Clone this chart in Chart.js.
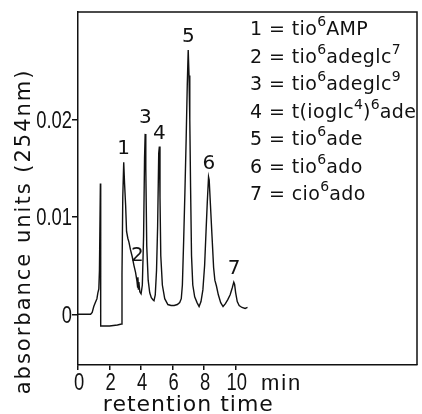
<!DOCTYPE html>
<html>
<head>
<meta charset="utf-8">
<script src="https://cdn.jsdelivr.net/npm/chart.js@4/dist/chart.umd.min.js"></script>
<style>
html,body{margin:0;padding:0;background:#fff;}
canvas{display:block;}
</style>
</head>
<body>
<canvas id="c" width="422" height="414"></canvas>
<script>
// retention time (min)
const retentionTime = [
  0, 0.8, 0.9, 1.0, 1.1, 1.2, 1.26, 1.32, 1.36, 1.42, 1.43, 1.45, 2.0, 2.5, 2.76,
  2.79, 2.84, 2.9, 2.95, 3.02, 3.08, 3.16, 3.23, 3.33, 3.44, 3.55, 3.65, 3.74, 3.78, 3.8, 3.83, 3.86, 3.92, 4.0,
  4.08, 4.16, 4.22, 4.26, 4.3, 4.36, 4.45, 4.55, 4.65, 4.75, 4.82, 4.9, 4.98, 5.05, 5.12, 5.16, 5.2, 5.25, 5.35,
  5.5, 5.7, 5.9, 6.1, 6.3, 6.45, 6.55, 6.62, 6.7, 6.78, 6.86, 6.93, 6.99, 7.04, 7.09, 7.14, 7.2, 7.28, 7.4,
  7.55, 7.68, 7.8, 7.92, 8.03, 8.12, 8.2, 8.28, 8.32, 8.4, 8.5, 8.6, 8.68, 8.78, 8.9, 9.05, 9.2, 9.35, 9.5,
  9.65, 9.78, 9.88, 9.93, 10.0, 10.1, 10.22, 10.4, 10.6, 10.75
];
// absorbance units at 254 nm
const absorbance = [
  0, 0, 0.0002, 0.0008, 0.0012, 0.0016, 0.0022, 0.0026, 0.0045, 0.0134, 0.0134, -0.0012, -0.0012, -0.0011, -0.0010,
  0.0040, 0.0120, 0.0156, 0.0135, 0.0112, 0.0085, 0.0078, 0.0074, 0.0066, 0.0059, 0.0050, 0.0043, 0.0034, 0.0028, 0.0038, 0.0026, 0.0033, 0.0023, 0.0021,
  0.0030, 0.0080, 0.0160, 0.0185, 0.0150, 0.0070, 0.0035, 0.0022, 0.0017, 0.0015, 0.0014, 0.0020, 0.0045, 0.0090, 0.0165, 0.0172, 0.0120, 0.0060, 0.0030,
  0.0016, 0.0010, 0.0009, 0.0009, 0.0010, 0.0012, 0.0016, 0.0030, 0.0075, 0.0125, 0.0180, 0.0235, 0.0271, 0.0245, 0.0200, 0.0130, 0.0060, 0.0030, 0.0018,
  0.0012, 0.0008, 0.0013, 0.0025, 0.0050, 0.0085, 0.0115, 0.0141, 0.0138, 0.0112, 0.0080, 0.0048, 0.0035, 0.0029, 0.0020, 0.0012, 0.0008, 0.0011, 0.0015,
  0.0020, 0.0027, 0.0033, 0.0031, 0.0022, 0.0013, 0.0009, 0.0007, 0.0006, 0.0007
];
// peak numbers and where they sit (time, absorbance)
const peakNumbers = ["1", "2", "3", "4", "5", "6", "7"];
const peakTimes   = [2.9, 3.76, 4.27, 5.16, 7.0, 8.3, 9.9];
const peakLevels  = [0.0156, 0.0047, 0.0188, 0.0172, 0.0271, 0.0141, 0.0033];
// legend entries (^ = next character superscript)
const legendEntries = [
  "1 = tio^6AMP",
  "2 = tio^6adeglc^7",
  "3 = tio^6adeglc^9",
  "4 = t(ioglc^4)^6ade",
  "5 = tio^6ade",
  "6 = tio^6ado",
  "7 = cio^6ado"
];
const xTickValues = [0, 2, 4, 6, 8, 10];
const yTickValues = [0, 0.01, 0.02];
const xUnit = "min";
const xTitle = "retention time";
const yTitle = "absorbance units (254nm)";

const points = retentionTime.map((t, i) => ({x: t, y: absorbance[i]}));

const tickFont = "23px 'Liberation Sans', Arial, sans-serif";
const textFont = "'DejaVu Sans', sans-serif";

function drawSquished(ctx, text, x, y, align, sx) {
  ctx.save();
  ctx.translate(x, y);
  ctx.scale(sx, 1);
  ctx.textAlign = align;
  ctx.fillText(text, 0, 0);
  ctx.restore();
}

const decor = {
  id: 'decor',
  afterDraw(chart) {
    const ctx = chart.ctx;
    const a = chart.chartArea;
    const xs = chart.scales.x, ys = chart.scales.y;
    const hasLS = ('letterSpacing' in ctx);
    ctx.save();
    // frame top/right
    ctx.strokeStyle = '#111';
    ctx.lineWidth = 1.5;
    ctx.beginPath();
    ctx.moveTo(a.left, a.top);
    ctx.lineTo(a.right, a.top);
    ctx.lineTo(a.right, a.bottom);
    ctx.stroke();
    ctx.fillStyle = '#111';
    // tick labels (slightly condensed like the original lettering)
    ctx.font = tickFont;
    ctx.textBaseline = 'alphabetic';
    xs.ticks.forEach(t => {
      drawSquished(ctx, String(t.value), xs.getPixelForValue(t.value) + 1, 390, 'center', 0.8);
    });
    ys.ticks.forEach(t => {
      drawSquished(ctx, String(t.value), a.left - 6, ys.getPixelForValue(t.value) + 8.5, 'right', 0.8);
    });
    // unit label after last tick
    ctx.font = "22px 'Liberation Sans', Arial, sans-serif";
    ctx.textAlign = 'left';
    ctx.textBaseline = 'alphabetic';
    if (hasLS) ctx.letterSpacing = '2px';
    ctx.fillText(xUnit, xs.getPixelForValue(11.6), 390);
    // x title
    ctx.font = "22px " + textFont;
    ctx.textAlign = 'center';
    if (hasLS) ctx.letterSpacing = '1px';
    ctx.fillText(xTitle, xs.getPixelForValue(7), 411);
    // y title
    ctx.save();
    ctx.translate(30, ys.getPixelForValue(0.0085));
    ctx.rotate(-Math.PI / 2);
    ctx.font = "21px " + textFont;
    if (hasLS) ctx.letterSpacing = '2px';
    ctx.textAlign = 'center';
    ctx.textBaseline = 'alphabetic';
    ctx.fillText(yTitle, 0, 0);
    ctx.restore();
    if (hasLS) ctx.letterSpacing = '0px';
    // peak labels
    ctx.font = "20px " + textFont;
    ctx.textAlign = 'center';
    ctx.textBaseline = 'middle';
    peakNumbers.forEach((n, i) => {
      ctx.fillText(n, xs.getPixelForValue(peakTimes[i]), ys.getPixelForValue(peakLevels[i]) - 13);
    });
    // legend
    const x0 = 250;
    legendEntries.forEach((s, i) => {
      let x = x0;
      const y = 35 + i * 27.5;
      ctx.textAlign = 'left';
      ctx.textBaseline = 'alphabetic';
      for (let k = 0; k < s.length; k++) {
        let ch = s[k];
        if (ch === '^') {
          k++; ch = s[k];
          ctx.font = "14px " + textFont;
          ctx.fillText(ch, x, y - 9);
          x += ctx.measureText(ch).width;
        } else {
          ctx.font = "19px " + textFont;
          ctx.fillText(ch, x, y);
          x += ctx.measureText(ch).width + 0.4;
        }
      }
    });
    ctx.restore();
  }
};

new Chart(document.getElementById('c'), {
  type: 'line',
  data: {
    datasets: [{
      data: points,
      borderColor: '#111',
      borderWidth: 1.4,
      pointRadius: 0,
      tension: 0,
      fill: false
    }]
  },
  options: {
    responsive: false,
    devicePixelRatio: 1,
    animation: false,
    events: [],
    layout: {padding: {top: 12, right: 5, left: 0, bottom: 0}},
    plugins: {legend: {display: false}, tooltip: {enabled: false}},
    scales: {
      x: {
        type: 'linear',
        min: 0, max: 21.5,
        afterBuildTicks: s => { s.ticks = xTickValues.map(v => ({value: v})); },
        afterFit: s => { s.height = 49; },
        grid: {drawOnChartArea: false, drawTicks: true, tickLength: 5, color: '#111', lineWidth: 1.5},
        border: {display: true, color: '#111', width: 1.5},
        ticks: {display: false}
      },
      y: {
        type: 'linear',
        min: -0.0052, max: 0.0310,
        afterBuildTicks: s => { s.ticks = yTickValues.map(v => ({value: v})); },
        afterFit: s => { s.width = 78; },
        grid: {drawOnChartArea: false, drawTicks: true, tickLength: 6, color: '#111', lineWidth: 1.5},
        border: {display: true, color: '#111', width: 1.5},
        ticks: {display: false}
      }
    }
  },
  plugins: [decor]
});
</script>
</body>
</html>
